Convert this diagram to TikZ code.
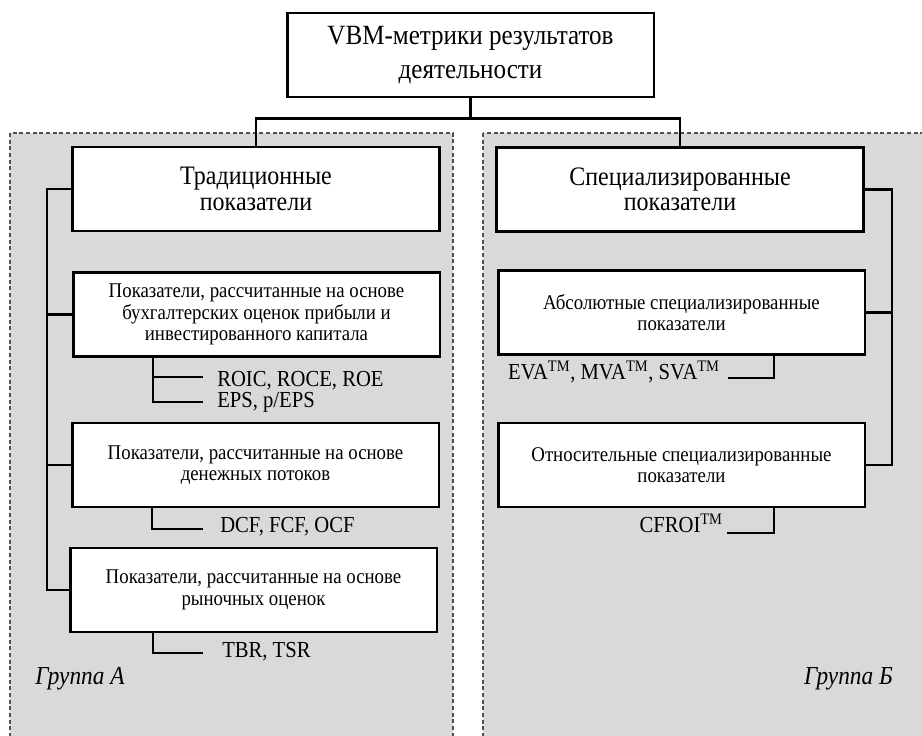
\documentclass[tikz,border=0pt]{standalone}
\usepackage{fontspec}
\setmainfont{Liberation Serif}[FakeStretch=0.9]
\usetikzlibrary{calc}

\definecolor{panelgray}{HTML}{D9D9D9}
\definecolor{dashgray}{HTML}{505050}

\begin{document}
\begin{tikzpicture}[
  x = 0.75pt, y = -0.75pt,
  panel/.style = {fill=panelgray, draw=dashgray, line width=0.8pt, dash pattern=on 3pt off 2pt},
  box/.style = {draw, line width=2pt, fill=white, align=center, inner sep=0pt,
                minimum width=275pt, minimum height=63pt},
  bigbox/.style = {box, font=\fontsize{20}{19}\selectfont},
  smallbox/.style = {box, font=\fontsize{15.7}{16}\selectfont},
  metric/.style = {inner sep=0pt, text height=11pt, text depth=0pt, font=\fontsize{17.2}{18}\selectfont},
  group/.style = {inner sep=0pt, font=\fontsize{19.4}{19}\selectfont\itshape},
  link/.style = {line width=1.8pt},
  ]
  \clip (0,0) rectangle (922,736);
  \draw[panel] (10,133) rectangle (453,760);
  \draw[panel] (483,133) rectangle (940,760);

  \node[bigbox, font=\fontsize{20.9}{26}\selectfont] (top) at (470.5,55) {VBM-метрики результатов\\деятельности};
  \node[bigbox] (trad) at (256,189) {Традиционные\\показатели};
  \node[bigbox] (spec) at (680,189.5) {Специализированные\\показатели};

  \node[smallbox] (acc) at (256.5,314.5) {Показатели, рассчитанные на основе\\бухгалтерских оценок прибыли и\\инвестированного капитала};
  \node[smallbox] (cash) at (255.5,465) {Показатели, рассчитанные на основе\\денежных потоков};
  \node[smallbox] (mkt) at (253.5,590) {Показатели, рассчитанные на основе\\рыночных оценок};
  \node[smallbox] (abs) at (681.5,312.5) {Абсолютные специализированные\\показатели};
  \node[smallbox] (rel) at (681.5,465) {Относительные специализированные\\показатели};

  \node[metric, anchor=west] (roic) at (217,379.5) {ROIC, ROCE, ROE};
  \node[metric, anchor=west] (eps) at (217,400.5) {EPS, p/EPS};
  \node[metric, anchor=west] (dcf) at (220,525.5) {DCF, FCF, OCF};
  \node[metric, anchor=west] (tbr) at (222,650) {TBR, TSR};
  \node[metric, anchor=east] (eva) at (720,372.5) {EVA\textsuperscript{TM}, MVA\textsuperscript{TM}, SVA\textsuperscript{TM}};
  \node[metric, anchor=east] (cfroi) at (723,525.5) {CFROI\textsuperscript{TM}};

  \node[group, anchor=base west] (grpa) at (35,684) {Группа А};
  \node[group, anchor=base east] (grpb) at (893,684) {Группа Б};

  \draw[link] (top.south) -- ++(0,20) -| (trad.north);
  \draw[link] (top.south) -- ++(0,20) -| (spec.north);

  \coordinate (lbar) at (47,0);
  \coordinate (rbar) at (892,0);
  \draw[link] (trad.west) -- (trad.west -| lbar) |- (mkt.west);
  \draw[link] (acc.west) -- (acc.west -| lbar);
  \draw[link] (cash.west) -- (cash.west -| lbar);
  \draw[link] (spec.east) -- (spec.east -| rbar) |- (rel.east);
  \draw[link] (abs.east) -- (abs.east -| rbar);

  \draw[link] ($(acc.south west)+(81,0)$) |- ($(eps.west)+(-14,1.5)$);
  \draw[link] ($(roic.west)+(-14,-2.5)$) -- ++(-49,0);
  \draw[link] ($(cash.south west)+(81,0)$) |- ($(dcf.west)+(-17,3.5)$);
  \draw[link] ($(mkt.south west)+(84,0)$) |- ($(tbr.west)+(-19,3)$);
  \draw[link] ($(abs.south west)+(277,0)$) |- ($(eva.east)+(8,5.5)$);
  \draw[link] ($(rel.south west)+(277,0)$) |- ($(cfroi.east)+(4,7.5)$);
\end{tikzpicture}
\end{document}
